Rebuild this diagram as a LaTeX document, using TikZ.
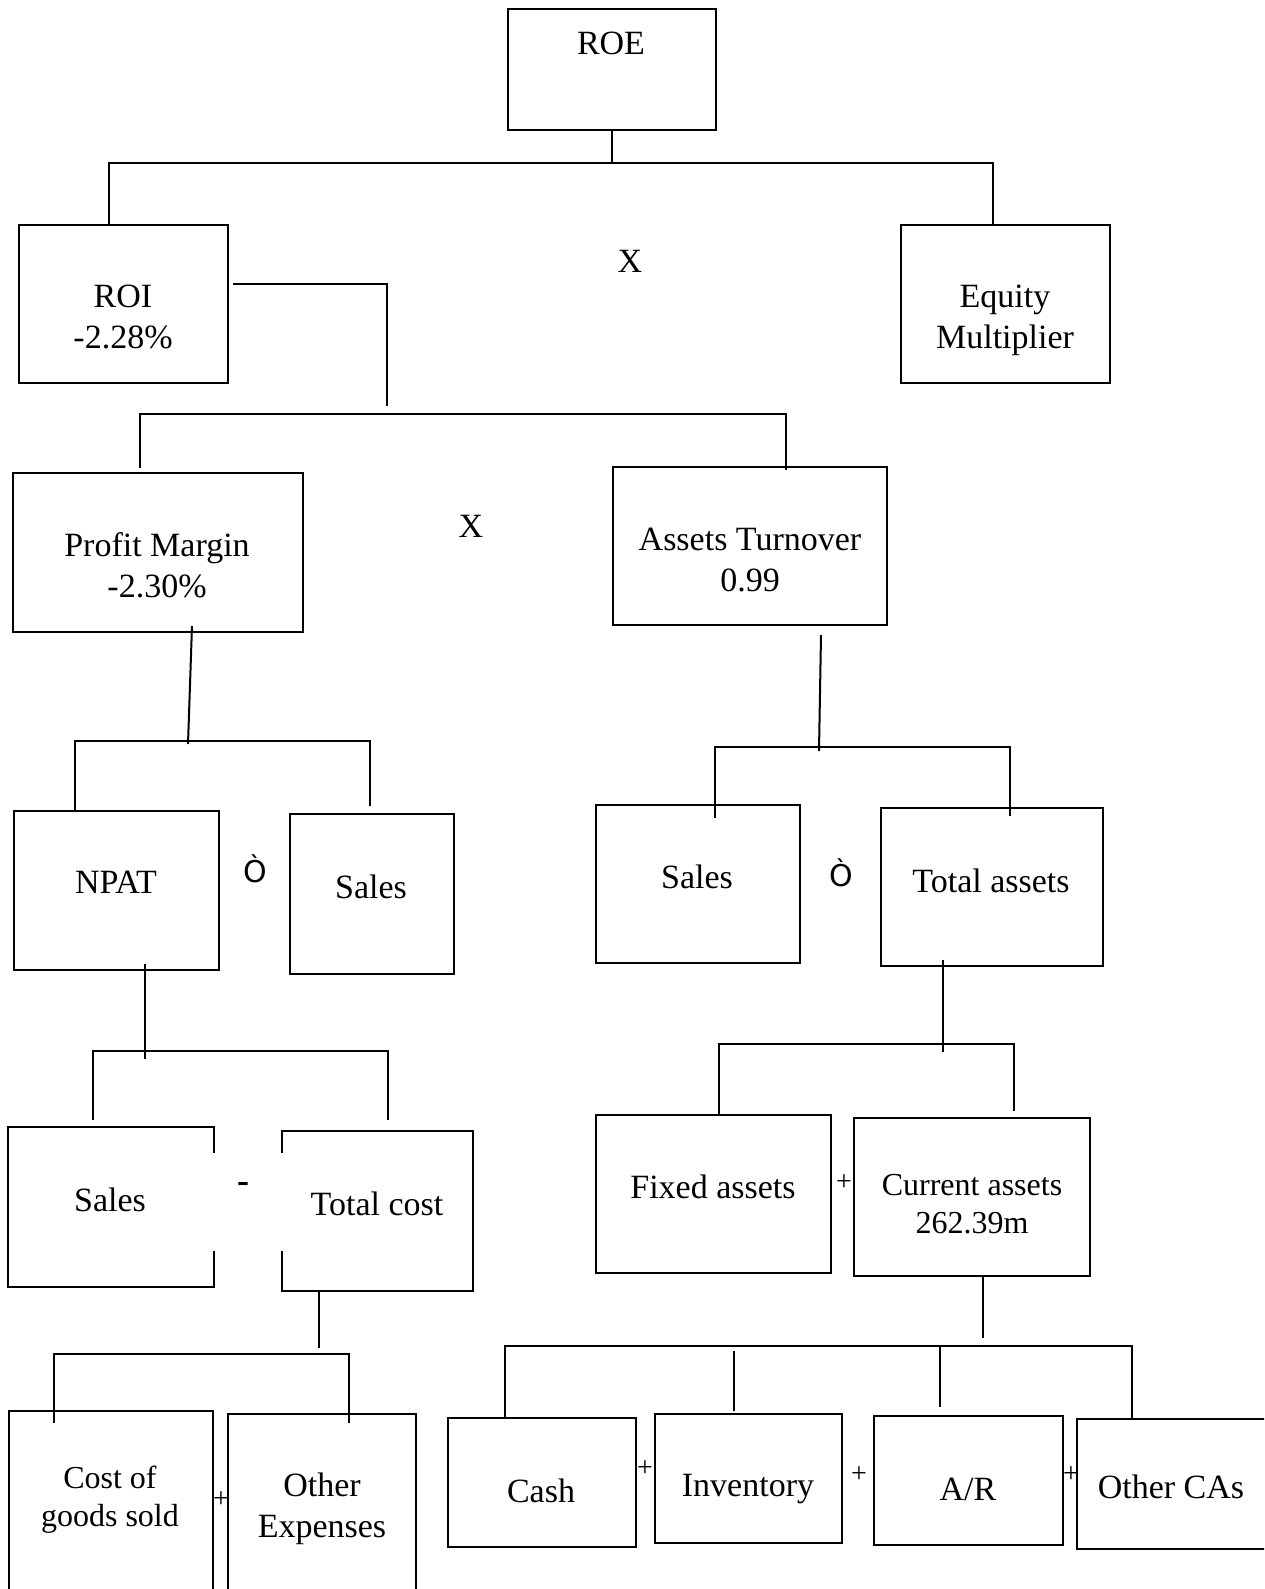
\documentclass[tikz,border=0pt]{standalone}
\usepackage{fontspec}
\setmainfont{Liberation Serif}
\newfontfamily\divfont{DejaVu Sans}
\usetikzlibrary{calc}

\tikzset{
  box/.style 2 args={draw, minimum width=#1*0.5pt, minimum height=#2*0.5pt, inner sep=0pt},
  openbox/.style 2 args={minimum width=#1*0.5pt, minimum height=#2*0.5pt, inner sep=0pt},
  lbl/.style={font=\fontsize{17}{20.5}\selectfont, align=center, inner sep=0pt},
  smalllbl/.style={font=\fontsize{16}{19}\selectfont, align=center, inner sep=0pt},
  sign/.style={font=\fontsize{14}{16}\selectfont, inner sep=0pt},
  divsign/.style={font=\divfont\fontsize{15}{17}\selectfont, inner sep=0pt},
}

\begin{document}
\begin{tikzpicture}[x=0.5pt, y=-0.5pt, line width=1pt]
\useasboundingbox (0,0) rectangle (1264,1589);
\clip (0,0) rectangle (1264,1589);

% boxes
\node[box={208}{121}] (roe) at (612,69.5) {};
\node[box={209}{158}] (roi) at (123.5,304) {};
\node[box={209}{158}] (em) at (1005.5,304) {};
\node[box={290}{159}] (pm) at (158,552.5) {};
\node[box={274}{158}] (at) at (750,546) {};
\node[box={205}{159}] (npat) at (116.5,890.5) {};
\node[box={164}{160}] (sales1) at (372,894) {};
\node[box={204}{158}] (sales2) at (698,884) {};
\node[box={222}{158}] (ta) at (992,887) {};
\node[openbox={204}{158}] (sales3) at (111,1207) {};
\node[openbox={189}{158}] (tc) at (377.5,1211) {};
\node[box={235}{158}] (fa) at (713.5,1194) {};
\node[box={236}{158}] (ca) at (972,1197) {};
\node[box={204}{200}] (cogs) at (111,1511) {};
\node[box={188}{197}] (oe) at (322,1512.5) {};
\node[box={188}{129}] (cash) at (542,1482.5) {};
\node[box={187}{129}] (inv) at (748.5,1478.5) {};
\node[box={189}{129}] (ar) at (968.5,1480.5) {};
\node[box={200}{130}] (oca) at (1177,1484) {};

% broken sides
\draw ($(sales3.north east)+(0,26)$) -- (sales3.north east) -- (sales3.north west)
  -- (sales3.south west) -- (sales3.south east) -- ++(0,-36);
\draw ($(tc.north west)+(0,22)$) -- (tc.north west) -- (tc.north east)
  -- (tc.south east) -- (tc.south west) -- ++(0,-40);

% texts
\node[lbl] (roe-t) at (611,43) {ROE};
\node[lbl] (roi-t) at (123,317) {ROI\\-2.28\%};
\node[lbl] (em-t) at (1005,320) {Equity\\Multiplier};
\node[lbl] (pm-t) at (157,565) {Profit Margin\\-2.30\%};
\node[lbl] (at-t) at (750,560) {Assets Turnover\\0.99};
\node[lbl] (npat-t) at (116,882) {NPAT};
\node[lbl] (sales1-t) at (371,887) {Sales};
\node[lbl] (sales2-t) at (697,877) {Sales};
\node[lbl] (ta-t) at (991,881) {Total assets};
\node[lbl] (sales3-t) at (110,1200) {Sales};
\node[lbl] (tc-t) at (377,1204) {Total cost};
\node[lbl] (fa-t) at (713,1187) {Fixed assets};
\node[smalllbl] (ca-t) at (972,1204) {Current assets\\262.39m};
\node[smalllbl] (cogs-t) at (110,1500) {Cost of\\goods sold};
\node[lbl] (oe-t) at (322,1509) {Other\\Expenses};
\node[lbl] (cash-t) at (541,1491) {Cash};
\node[lbl] (inv-t) at (748,1489) {Inventory};
\node[lbl] (ar-t) at (968,1489) {A/R};
\node[lbl] (oca-t) at (1171,1487) {Other CAs};

% operators
\node[lbl] (x1) at (630,261) {X};
\node[lbl] (x2) at (471,526) {X};
\node[divsign] (div1) at (255,869) {Ò};
\node[divsign] (div2) at (841,873) {Ò};
\node[font=\bfseries\fontsize{18}{20}\selectfont, inner sep=0pt] (minus) at (243,1187) {-};
\node[sign] (plus1) at (221,1500) {+};
\node[sign] (plus2) at (844,1183) {+};
\node[sign] (plus3) at (645,1469) {+};
\node[sign] (plus4) at (859,1475) {+};
\node[sign] (plus5) at (1071,1475) {+};

% bar points
\coordinate (b1) at (612,163);
\coordinate (r1) at (387,406);
\coordinate (b2) at (387,414);
\coordinate (b3) at (188,741);
\coordinate (b4) at (819,747);
\coordinate (b5) at (145,1051);
\coordinate (b6) at (319,1354);
\coordinate (b7) at (943,1044);
\coordinate (b8) at (983,1347);

% connectors
\draw (roe.south) -- (b1);
\draw ($(roi.north west)+(91,0)$) |- (b1) -| ($(em.north west)+(93,0)$);
\draw ($(roi.north east)+(4,60)$) -| (r1);
\draw ($(pm.north west)+(128,-4)$) |- (b2) -| ($(at.north west)+(174,4)$);

\draw ($(pm.south)+(34,-7)$) -- ($(b3)+(0,3)$);
\draw ($(npat.north west)+(62,0)$) |- (b3) -| ($(sales1.north west)+(81,-7)$);

\draw ($(at.south)+(71,9)$) -- ($(b4)+(0,4)$);
\draw ($(sales2.north west)+(120,14)$) |- (b4) -| ($(ta.north west)+(130,9)$);

\draw ($(npat.south)+(28.5,-7)$) -- ($(b5)+(0,8)$);
\draw ($(sales3.north west)+(85,-7)$) |- (b5) -| ($(tc.north west)+(106,-11)$);

\draw (tc.south -| b6) -- ($(b6)+(0,-6)$);
\draw ($(cogs.north west)+(46,13)$) |- (b6) -| ($(oe.north west)+(122,10)$);

\draw ($(ta.south)+(-49,-7)$) -- ($(b7)+(0,8)$);
\draw ($(fa.north west)+(124,0)$) |- (b7) -| ($(ca.north west)+(161,-6)$);

\draw (ca.south -| b8) -- ($(b8)+(0,-9)$);
\draw ($(cash.north west)+(58,0)$) |- ($(oca.north west)+(56,-72)$) -- ($(oca.north west)+(56,0)$);
\draw ($(inv.north west)+(80,-62)$) -- ($(inv.north west)+(80,-2)$);
\draw ($(ar.north west)+(67,-69)$) -- ($(ar.north west)+(67,-8)$);
\end{tikzpicture}
\end{document}
